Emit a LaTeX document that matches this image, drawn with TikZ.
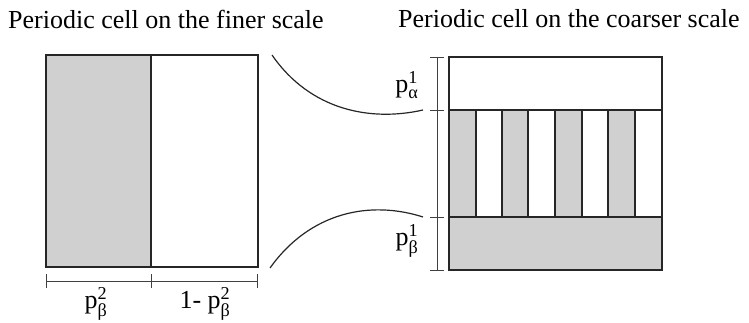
\documentclass[tikz,border=0pt]{standalone}
\usepackage{fontspec}
\setmainfont{Liberation Serif}
\usepackage{amsmath}
\definecolor{cellgray}{RGB}{208,208,208}
\tikzset{
  box/.style={draw=black!85, line width=1.1pt},
  dimline/.style={draw=black!75, line width=0.9pt},
  link/.style={draw=black!85, line width=1.2pt},
  title/.style={font=\fontsize{26}{28}\selectfont, inner sep=0pt},
  lab/.style={font=\fontsize{26}{28}\selectfont, inner sep=0pt}
}
\newcommand{\plab}[2]{$\text{p}^{\text{#1}}_{\text{#2}}$}
\begin{document}
\begin{tikzpicture}[x=1pt,y=-1pt]
\useasboundingbox (0,0) rectangle (749,323);
% titles
\node[title, anchor=west] (t1) at (8,19) {Periodic cell on the finer scale};
\node[title, anchor=west] (t2) at (398,19) {Periodic cell on the coarser scale};
% left cell
\fill[cellgray] (46,55) rectangle (151,267);
\draw[box] (46,55) rectangle (258,267);
\draw[box] (151,55) -- (151,267);
% bottom dimension
\coordinate (d0) at (46,281);
\coordinate (d1) at (151,281);
\coordinate (d2) at (257,281);
\draw[dimline] (d0) -- (d2);
\foreach \p in {d0,d1,d2}{\draw[dimline] ([yshift=-7]\p) -- ([yshift=7]\p);}
\node[lab] (pb2) at (96,304) {\plab{2}{β}};
\node[lab] (opb2) at (205,304) {1- \plab{2}{β}};
% right cell
\fill[cellgray] (449,217) rectangle (662,270);
\foreach \x in {449,502,555,608}{\fill[cellgray] (\x,110) rectangle (\x+27,217);}
\draw[box] (449,57) rectangle (662,270);
\draw[box] (449,110) -- (662,110);
\draw[box] (449,217) -- (662,217);
\foreach \x in {476,502,528,555,582,608,635}{\draw[box] (\x,110) -- (\x,217);}
% vertical dimension
\coordinate (v0) at (437,57);
\coordinate (v1) at (437,110);
\coordinate (v2) at (437,217);
\coordinate (v3) at (437,270);
\draw[dimline] (v0) -- (v3);
\foreach \p in {v0,v1,v2,v3}{\draw[dimline] ([xshift=-7]\p) -- ([xshift=7]\p);}
\node[lab] (pa1) at (407,85) {\plab{1}{α}};
\node[lab] (pb1) at (407,241) {\plab{1}{β}};
% connecting curves
\coordinate (c1s) at (272,55);
\coordinate (c1e) at (423,110);
\coordinate (c2s) at (270,268);
\coordinate (c2e) at (423,217);
\draw[link] (c1s) .. controls (310,110) and (370,122) .. (c1e);
\draw[link] (c2s) .. controls (310,212) and (370,200) .. (c2e);
\end{tikzpicture}
\end{document}
